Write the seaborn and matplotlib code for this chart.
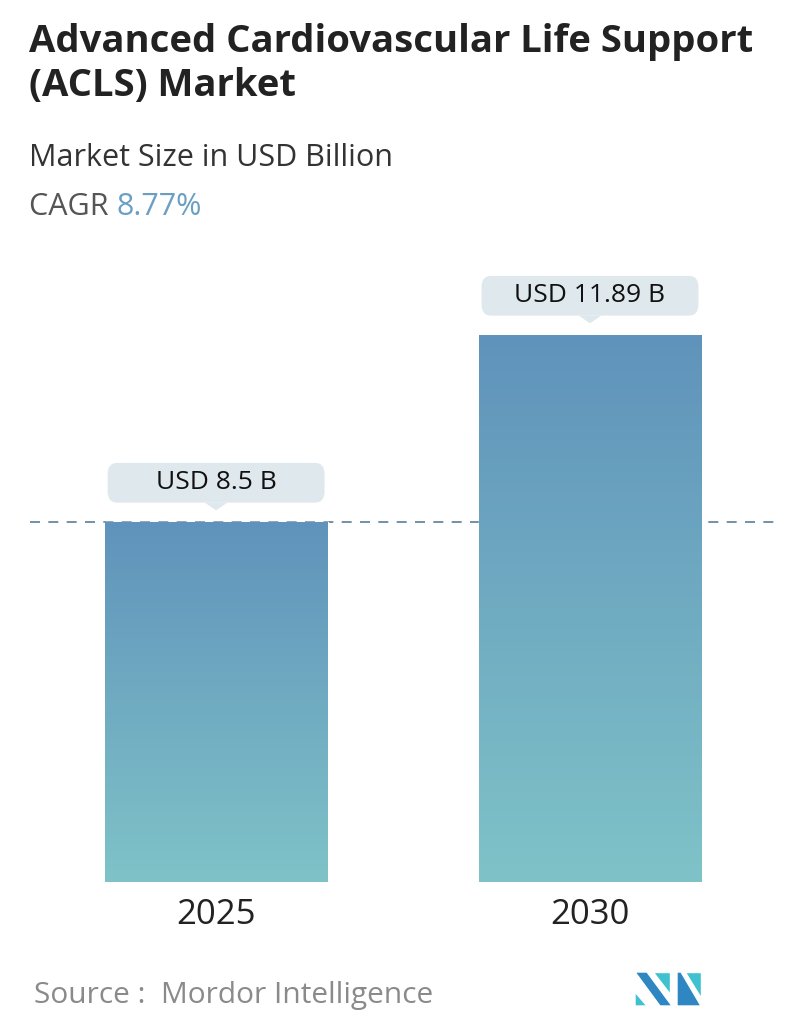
import matplotlib

matplotlib.use("Agg")
import matplotlib.pyplot as plt
import numpy as np
import pandas as pd
import seaborn as sns
from matplotlib.colors import LinearSegmentedColormap
from matplotlib.patches import FancyBboxPatch, Polygon

years = ["2025", "2030"]
values = [8.5, 11.89]
labels = ["USD 8.5 B", "USD 11.89 B"]
title = "Advanced Cardiovascular Life Support\n(ACLS) Market"
subtitle = "Market Size in USD Billion"
cagr = "8.77%"
source = "Source :  Mordor Intelligence"

base = 1.973  # visual baseline of the bars (axis does not start at zero)

sns.set_theme(style="white")
plt.rcParams["font.family"] = ["Open Sans", "DejaVu Sans"]

fig = plt.figure(figsize=(7.96, 10.34), dpi=100)
ax = fig.add_axes([0, 0.147, 1, 0.6016])

df = pd.DataFrame({"year": years, "value": [v - base for v in values]})
sns.barplot(data=df, x="year", y="value", ax=ax, width=0.596, color="#6195bb",
            bottom=base, zorder=3)
ax.set_xlim(-0.578, 1.551)
ax.set_ylim(base, base + 11.276)
ax.axis("off")

# gradient fill clipped to each bar
cmap = LinearSegmentedColormap.from_list("bar", ["#7fc3c8", "#6093bb"])
grad = np.linspace(0, 1, 256).reshape(-1, 1)
for patch in ax.patches:
    x0, y0 = patch.get_x(), patch.get_y()
    w, h = patch.get_width(), patch.get_height()
    im = ax.imshow(grad, cmap=cmap, aspect="auto", origin="lower",
                   extent=[x0, x0 + w, y0, y0 + h], zorder=4)
    im.set_clip_path(patch)

# dashed reference line at the 2025 value
ax.plot([-0.497, 1.508], [values[0], values[0]], ls=(0, (6, 5)), color="#5a7f9c",
        lw=1.2, zorder=2)

# callout boxes
for i, (v, lab) in enumerate(zip(values, labels)):
    bw, bh = 0.58, 0.72
    by = v + 0.35
    box = FancyBboxPatch((i - bw / 2, by), bw, bh,
                         boxstyle="round,pad=0,rounding_size=0.025",
                         fc="#dfe8ec", ec="none", zorder=5, mutation_aspect=8)
    ax.add_patch(box)
    ax.add_patch(Polygon([[i - 0.03, by], [i + 0.03, by], [i, by - 0.14]],
                         closed=True, fc="#dfe8ec", ec="none", zorder=5))
    ax.text(i, by + bh / 2, lab, ha="center", va="center", fontsize=19,
            color="#111111", zorder=6)
    ax.text(i, base - 0.6, years[i], ha="center", va="center", fontsize=25,
            color="#222222")

fig.text(0.036, 0.978, title, ha="left", va="top", fontsize=27.5,
         fontweight="bold", color="#222222", linespacing=1.2)
fig.text(0.036, 0.847, subtitle, ha="left", va="center", fontsize=22, color="#333333")
t = fig.text(0.036, 0.8, "CAGR ", ha="left", va="center", fontsize=22, color="#555555")
fig.canvas.draw()
bb = t.get_window_extent()
fig.text(bb.x1 / fig.bbox.width, 0.8, cagr, ha="left", va="center", fontsize=22,
         color="#6a9fc4")
fig.text(0.043, 0.037, source, ha="left", va="center", fontsize=21.5, color="#8a8a8a")

# logo
lax = fig.add_axes([635 / 796, 1 - 1006 / 1034, 66 / 796, 34 / 1034])
lax.set_xlim(0, 66)
lax.set_ylim(0, 34)
lax.axis("off")
lax.add_patch(Polygon([[0, 0], [0, 14], [12, 0]], fc="#40c1cf"))
lax.add_patch(Polygon([[0, 34], [12, 34], [37, 0], [25, 0]], fc="#2e87c2"))
lax.add_patch(Polygon([[18, 34], [35, 34], [35, 12]], fc="#40c1cf"))
lax.add_patch(Polygon([[42, 0], [42, 34], [46, 34], [66, 0]], fc="#2e87c2"))
lax.add_patch(Polygon([[50, 34], [66, 34], [66, 8]], fc="#40c1cf"))

fig.savefig("out.png", dpi=100)
